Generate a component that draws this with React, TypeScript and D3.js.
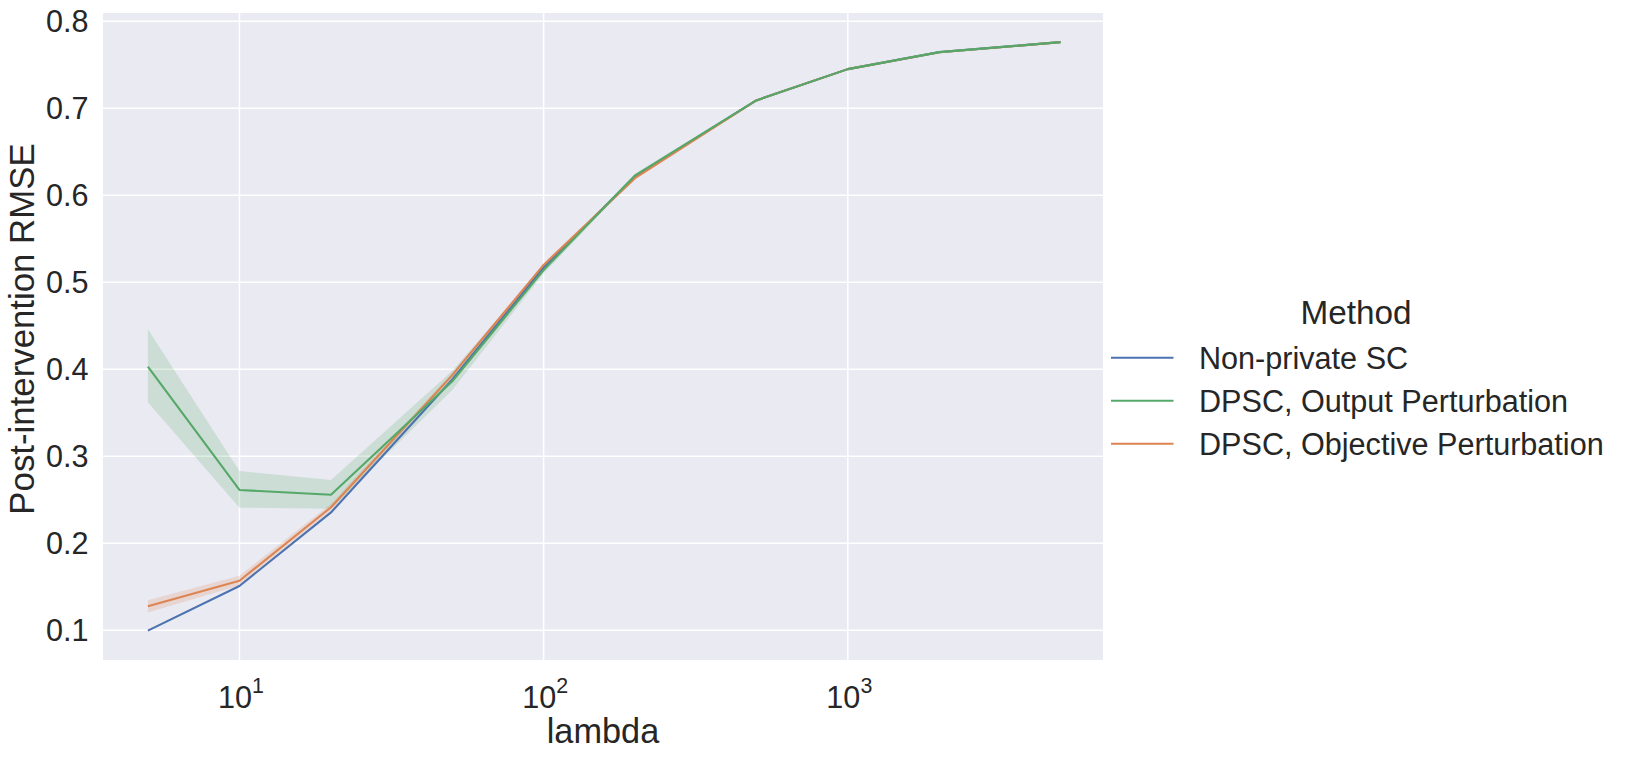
import React from "react";
import * as d3 from "d3";

const lambdas = [5, 10, 20, 50, 100, 200, 500, 1000, 2000, 5000];

const nonPrivate = [0.0996, 0.151, 0.2355, 0.388, 0.517, 0.622, 0.709, 0.745, 0.7645, 0.776];
const nonPrivateLo = [0.0994, 0.1505, 0.235, 0.3875, 0.5165, 0.6215, 0.7088, 0.7448, 0.7643, 0.7758];
const nonPrivateHi = [0.0998, 0.1515, 0.236, 0.3885, 0.5175, 0.6225, 0.7092, 0.7452, 0.7647, 0.7762];

const outputPert = [0.403, 0.2613, 0.2559, 0.386, 0.514, 0.623, 0.709, 0.745, 0.7645, 0.776];
const outputPertLo = [0.362, 0.241, 0.2398, 0.376, 0.510, 0.621, 0.708, 0.744, 0.764, 0.7755];
const outputPertHi = [0.446, 0.283, 0.2728, 0.398, 0.518, 0.625, 0.710, 0.746, 0.765, 0.7765];

const objectivePert = [0.1276, 0.157, 0.2414, 0.393, 0.520, 0.620, 0.709, 0.745, 0.7643, 0.776];
const objectivePertLo = [0.1205, 0.1515, 0.2375, 0.390, 0.518, 0.618, 0.708, 0.744, 0.7638, 0.7755];
const objectivePertHi = [0.1345, 0.1628, 0.2455, 0.396, 0.522, 0.622, 0.710, 0.746, 0.7648, 0.7765];

const seriesNames = ["Non-private SC", "DPSC, Output Perturbation", "DPSC, Objective Perturbation"];
const seriesColors = ["#4C72B0", "#55A868", "#DD8452"];

const yTicks = [0.1, 0.2, 0.3, 0.4, 0.5, 0.6, 0.7, 0.8];
const xTicks = [10, 100, 1000];
const xTickExponents = ["1", "2", "3"];

const W = 1629;
const H = 761;
const plotLeft = 103;
const plotRight = 1103;
const plotTop = 13;
const plotBottom = 660;

const FONT = "'Liberation Sans', Arial, Helvetica, sans-serif";

export default function App() {
  const x = d3.scaleLog().domain([3.56, 6900]).range([plotLeft, plotRight]);
  const y = d3.scaleLinear().domain([0.0659, 0.8095]).range([plotBottom, plotTop]);

  const series = [
    { name: seriesNames[0], color: seriesColors[0], mean: nonPrivate, lo: nonPrivateLo, hi: nonPrivateHi },
    { name: seriesNames[2], color: seriesColors[2], mean: objectivePert, lo: objectivePertLo, hi: objectivePertHi },
    { name: seriesNames[1], color: seriesColors[1], mean: outputPert, lo: outputPertLo, hi: outputPertHi },
  ];

  const line = d3
    .line<number>()
    .x((_, i) => x(lambdas[i]))
    .y((d) => y(d));

  const areaFor = (lo: number[], hi: number[]) =>
    d3
      .area<number>()
      .x((_, i) => x(lambdas[i]))
      .y0((_, i) => y(lo[i]))
      .y1((_, i) => y(hi[i]))(lambdas) as string;

  const legendX0 = 1111;
  const legendLineLen = 62.5;
  const legendTextX = 1199;
  const legendRows = [357.7, 400.7, 443.7];

  return (
    <svg
      width={W}
      height={H}
      viewBox={`0 0 ${W} ${H}`}
      style={{ position: "absolute", left: 0, top: 0, background: "#ffffff" }}
      fontFamily={FONT}
    >
      <defs>
        <clipPath id="plotClip">
          <rect x={plotLeft} y={plotTop} width={plotRight - plotLeft} height={plotBottom - plotTop} />
        </clipPath>
      </defs>
      <rect x={plotLeft} y={plotTop} width={plotRight - plotLeft} height={plotBottom - plotTop} fill="#EAEAF2" />
      {yTicks.map((t) => (
        <line key={"gy" + t} x1={plotLeft} x2={plotRight} y1={y(t)} y2={y(t)} stroke="#ffffff" strokeWidth={1.5} />
      ))}
      {xTicks.map((t) => (
        <line key={"gx" + t} x1={x(t)} x2={x(t)} y1={plotTop} y2={plotBottom} stroke="#ffffff" strokeWidth={1.5} />
      ))}
      <g clipPath="url(#plotClip)">
        {series.map((s) => (
          <path key={"a" + s.name} d={areaFor(s.lo, s.hi)} fill={s.color} fillOpacity={0.2} stroke="none" />
        ))}
        {series.map((s) => (
          <path
            key={"l" + s.name}
            d={line(s.mean) as string}
            fill="none"
            stroke={s.color}
            strokeWidth={2.1}
            strokeLinejoin="round"
            strokeLinecap="butt"
          />
        ))}
      </g>
      {yTicks.map((t) => (
        <text key={"ty" + t} x={88.5} y={y(t) + 11} textAnchor="end" fontSize={30.6} fill="#262626">
          {t.toFixed(1)}
        </text>
      ))}
      {xTicks.map((t, i) => (
        <text key={"tx" + t} x={x(t) + 1.5} y={708} textAnchor="middle" fontSize={30.6} fill="#262626">
          <tspan>10</tspan>
          <tspan fontSize={21.4} dy={-15}>
            {xTickExponents[i]}
          </tspan>
        </text>
      ))}
      <text x={(plotLeft + plotRight) / 2} y={743} textAnchor="middle" fontSize={34.3} fill="#262626">
        lambda
      </text>
      <text
        transform={`translate(33.5, 329) rotate(-90)`}
        textAnchor="middle"
        fontSize={34.8}
        fill="#262626"
      >
        Post-intervention RMSE
      </text>
      <text x={1356} y={324} textAnchor="middle" fontSize={33.3} fill="#262626">
        Method
      </text>
      {seriesNames.map((n, i) => (
        <g key={"lg" + n}>
          <line
            x1={legendX0}
            x2={legendX0 + legendLineLen}
            y1={legendRows[i]}
            y2={legendRows[i]}
            stroke={seriesColors[i]}
            strokeWidth={2.1}
          />
          <text x={legendTextX} y={legendRows[i] + 10.8} fontSize={30.6} fill="#262626">
            {n}
          </text>
        </g>
      ))}
    </svg>
  );
}
